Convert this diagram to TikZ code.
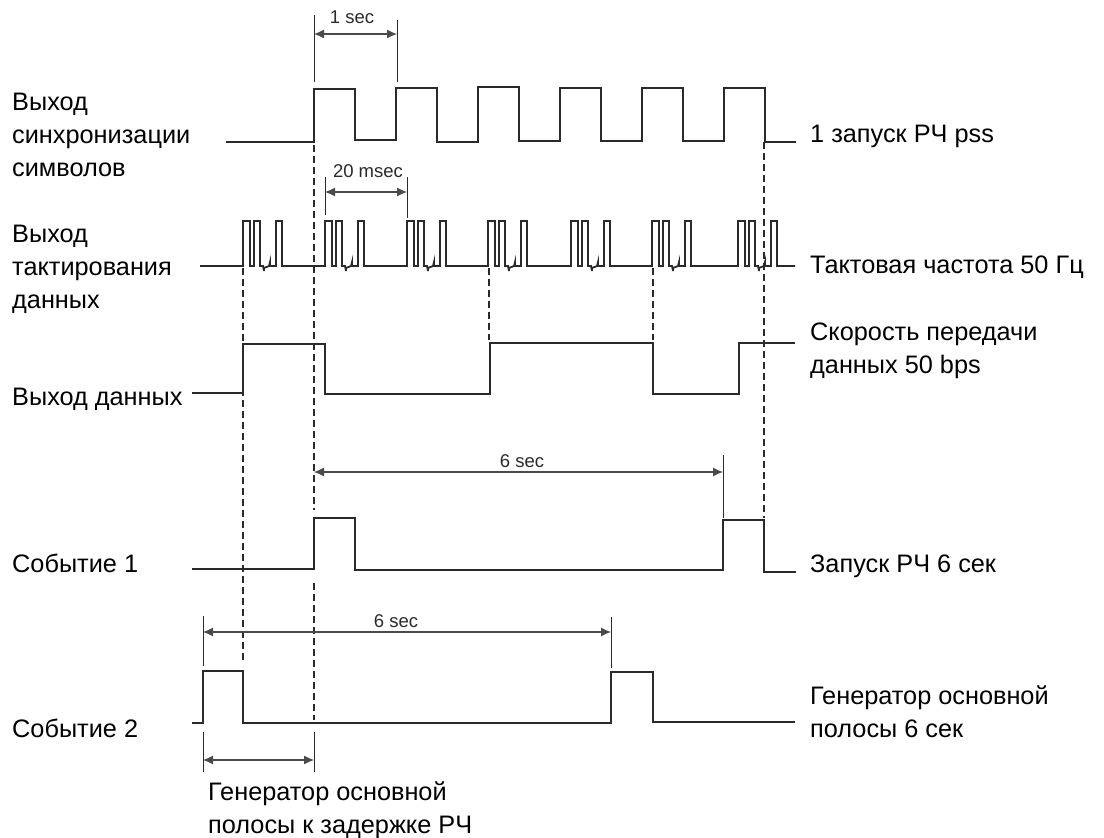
\documentclass[tikz,border=0pt]{standalone}
\usepackage{fontspec}
\setmainfont{Liberation Sans}
\usetikzlibrary{arrows.meta}
\definecolor{ink}{HTML}{2A2A2A}
\tikzset{
  wave/.style={draw=ink,line width=2pt,line join=miter},
  thinwave/.style={draw=ink,line width=1.3pt},
  guide/.style={draw=ink,line width=1.4pt,dash pattern=on 7pt off 4pt},
  tick/.style={draw=ink,line width=1pt},
  span/.style={draw=ink!85,line width=1.1pt,{Latex[length=10pt,width=9pt]}-{Latex[length=10pt,width=9pt]}},
  lab/.style={font=\fontsize{25.3}{33}\selectfont,text=black,inner sep=0pt,align=left,anchor=base west},
  small/.style={font=\fontsize{18.5}{20}\selectfont,text=ink,inner sep=0pt,anchor=base},
}
\begin{document}
\begin{tikzpicture}[x=1pt,y=-1pt]
\useasboundingbox (0,0) rectangle (1104,838);
\fill[white] (0,0) rectangle (1104,838);

\node[lab] (l1) at (12,176) {Выход\\синхронизации\\символов};
\node[lab] (l2) at (12,308) {Выход\\тактирования\\данных};
\node[lab] (l3) at (12,405) {Выход данных};
\node[lab] (l4) at (12,572) {Событие 1};
\node[lab] (l5) at (12,737) {Событие 2};
\node[lab] (r1) at (810,142) {1 запуск РЧ pss};
\node[lab] (r2) at (810,273) {Тактовая частота 50 Гц};
\node[lab] (r3) at (810,373) {Скорость передачи\\данных 50 bps};
\node[lab] (r4) at (810,572) {Запуск РЧ 6 сек};
\node[lab] (r5) at (810,737) {Генератор основной\\полосы 6 сек};
\node[lab] (b1) at (208,833) {Генератор основной\\полосы к задержке РЧ};

% guides
\coordinate (tA) at (314,145); \coordinate (tAm) at (314,510);
\coordinate (tAn) at (314,583); \coordinate (tAe) at (314,720);
\coordinate (tB) at (243,268); \coordinate (tBe) at (243,663);
\coordinate (tD) at (489,268); \coordinate (tDe) at (489,340);
\coordinate (tE) at (653,268); \coordinate (tEe) at (653,340);
\coordinate (tG) at (764,142); \coordinate (tGe) at (764,518);
\draw[guide] (tA)--(tAm);
\draw[guide] (tAn)--(tAe);
\draw[guide] (tB)--(tBe);
\draw[guide] (tD)--(tDe);
\draw[guide] (tE)--(tEe);
\draw[guide] (tG)--(tGe);

% waveforms
\draw[wave] (226,142)--(314,142)--(314,89)--(355,89)--(355,140)--(396,140)--(396,88)--(437,88)--(437,142)--(478,142)--(478,87)--(519,87)--(519,141)--(560,141)--(560,88)--(601,88)--(601,141)--(642,141)--(642,88)--(683,88)--(683,141)--(724,141)--(724,88)--(765,88)--(765,142)--(796,142);

\draw[wave,line width=1.8pt] (200,266)--(243,266)
 \foreach \g in {243,325,407,488,571,652,738}{
   --(\g,266)--(\g,221)--(\g+7,221)--(\g+7,266)--(\g+11,266)--(\g+11,221)--(\g+17,221)--(\g+17,266)
   --(\g+20,266)--(\g+21,271)--(\g+21,268)--(\g+26,266)--(\g+27,262)--(\g+27,266)--(\g+33,266)--(\g+33,221)--(\g+39,221)--(\g+39,266)
 } --(795,266);

\draw[wave] (192,393)--(243,393)--(243,344)--(325,344)--(325,394)--(490,394)--(490,343)--(653,343)--(653,394)--(739,394)--(739,343)--(760,343);
\draw[thinwave] (760,343)--(795,343);

\draw[wave] (192,569)--(314,569)--(314,518)--(355,518)--(355,570)--(723,570)--(723,520)--(764,520)--(764,572)--(796,572);

\draw[wave] (192,723)--(203,723)--(203,671)--(243,671)--(243,723)--(611,723)--(611,672)--(653,672)--(653,722)--(795,722);

% dimensions
\coordinate (a1) at (314,34); \coordinate (a2) at (397,34);
\draw[tick] (314,15)--(314,82); \draw[tick] (397,20)--(397,82);
\draw[span] (a1)--(a2);
\node[small] (s1) at (352,23) {1 sec};

\coordinate (b1a) at (325,192); \coordinate (b1b) at (407,192);
\draw[tick] (325,177)--(325,215); \draw[tick] (407,177)--(407,218);
\draw[span] (b1a)--(b1b);
\node[small] (s2) at (368,177) {20 msec};

\coordinate (c1) at (314,472); \coordinate (c2) at (723,472);
\draw[tick] (723,455)--(723,518);
\draw[span] (c1)--(c2);
\node[small] (s3) at (522,467) {6 sec};

\coordinate (d1) at (203,632); \coordinate (d2) at (611,632);
\draw[tick] (203,616)--(203,666); \draw[tick] (611,617)--(611,668);
\draw[span] (d1)--(d2);
\node[small] (s4) at (396,627) {6 sec};

\coordinate (e1) at (203,760); \coordinate (e2) at (314,760);
\draw[tick] (203,732)--(203,772); \draw[tick] (314,732)--(314,772);
\draw[span] (e1)--(e2);
\end{tikzpicture}
\end{document}
